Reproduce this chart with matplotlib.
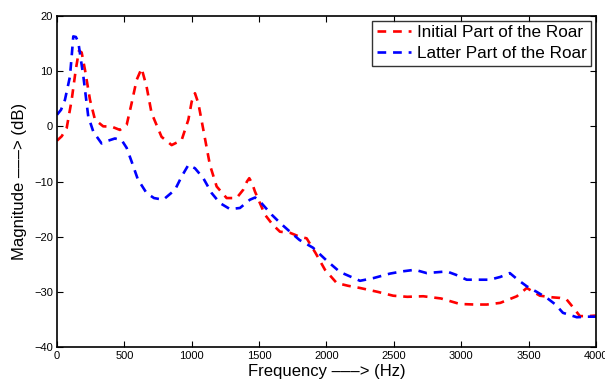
import matplotlib
matplotlib.use("Agg")
import matplotlib.pyplot as plt

plt.rcParams['font.family'] = ['Liberation Sans', 'DejaVu Sans']

freq_initial = [0, 35, 72, 109, 139, 163, 183, 208, 245, 282, 343, 405, 467, 517, 554, 591, 628, 665, 702, 776, 851, 925, 975, 1000, 1024, 1049, 1086, 1135, 1185, 1259, 1333, 1382, 1410, 1427, 1448, 1469, 1543, 1600, 1655, 1730, 1800, 1853, 1920, 1989, 2076, 2160, 2249, 2380, 2495, 2600, 2718, 2850, 2990, 3100, 3190, 3290, 3413, 3487, 3584, 3680, 3733, 3783, 3830, 3881, 3940, 4000]
mag_initial = [-2.6, -1.8, -0.3, 4.8, 10.2, 13.7, 13.4, 10.2, 4.8, 1.2, 0.0, -0.05, -0.65, 0.25, 4.2, 8.4, 10.5, 7.2, 2.4, -1.9, -3.4, -2.5, 1.2, 4.5, 6.0, 4.2, -0.6, -7.0, -10.9, -13.0, -13.0, -11.5, -10.0, -9.4, -10.3, -11.8, -16.0, -17.8, -19.1, -19.3, -20.0, -20.3, -23.0, -26.0, -28.4, -28.9, -29.3, -30.0, -30.7, -30.9, -30.8, -31.2, -32.2, -32.3, -32.3, -32.0, -30.8, -29.3, -30.7, -31.0, -31.1, -31.4, -32.8, -34.4, -34.4, -34.3]

freq_latter = [0, 30, 59, 96, 110, 121, 140, 158, 196, 232, 270, 331, 380, 430, 480, 517, 560, 600, 665, 720, 789, 876, 925, 975, 1024, 1086, 1148, 1209, 1284, 1358, 1432, 1470, 1506, 1593, 1660, 1729, 1800, 1900, 2000, 2100, 2249, 2350, 2470, 2560, 2656, 2744, 2893, 2960, 3041, 3212, 3290, 3361, 3420, 3487, 3560, 3636, 3700, 3755, 3858, 3940, 4000]
mag_latter = [2.1, 3.0, 4.8, 9.0, 13.0, 16.3, 16.2, 15.3, 9.0, 1.8, -1.0, -3.1, -2.6, -2.2, -2.5, -3.9, -6.8, -9.6, -12.1, -13.0, -13.3, -11.5, -9.1, -7.0, -7.6, -9.4, -12.1, -13.9, -15.0, -14.8, -13.3, -12.9, -13.6, -16.0, -17.6, -19.1, -20.6, -22.0, -24.3, -26.4, -28.0, -27.5, -26.7, -26.3, -26.0, -26.6, -26.3, -26.9, -27.8, -27.8, -27.3, -26.6, -27.8, -29.0, -30.0, -31.1, -32.3, -33.8, -34.6, -34.5, -34.5]

x_ticks = [0, 500, 1000, 1500, 2000, 2500, 3000, 3500, 4000]
y_ticks = [-40, -30, -20, -10, 0, 10, 20]

fig = plt.figure(figsize=(6.05, 3.81), dpi=100)
ax = fig.add_axes([0.0942, 0.0892, 0.8908, 0.8688])

ax.plot(freq_initial, mag_initial, color='red', lw=1.9, dashes=(3.3, 2.6),
        label='Initial Part of the Roar')
ax.plot(freq_latter, mag_latter, color='blue', lw=1.9, dashes=(3.3, 2.6),
        label='Latter Part of the Roar')

ax.set_xlim(0, 4000)
ax.set_ylim(-40, 20)
ax.set_xticks(x_ticks)
ax.set_yticks(y_ticks)
ax.tick_params(direction='in', length=4, width=0.8, labelsize=8, top=True, right=True, pad=3)
for s in ax.spines.values():
    s.set_linewidth(1.2)

ax.set_xlabel('Frequency \u2013\u2013\u2013> (Hz)', fontsize=12, labelpad=2)
ax.set_ylabel('Magnitude \u2013\u2013\u2013> (dB)', fontsize=12, labelpad=5)

leg = ax.legend(loc='upper right', fontsize=12.3, frameon=True, fancybox=False,
                handlelength=2.0, handletextpad=0.35, borderpad=0.25, labelspacing=0.35,
                borderaxespad=0.3)
leg.get_frame().set_edgecolor('black')
leg.get_frame().set_linewidth(1.0)

fig.savefig('out.png', dpi=100)
